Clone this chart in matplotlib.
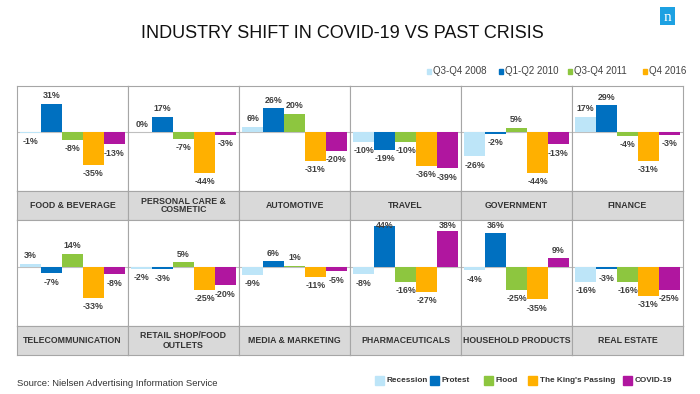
import numpy as np
import matplotlib
matplotlib.use('Agg')
import matplotlib.pyplot as plt
from matplotlib.patches import Rectangle

plt.rcParams['font.family'] = ['Liberation Sans', 'DejaVu Sans']

W, H = 700, 394

# data
industries = ['FOOD & BEVERAGE', 'PERSONAL CARE &\nCOSMETIC', 'AUTOMOTIVE',
              'TRAVEL', 'GOVERNMENT', 'FINANCE',
              'TELECOMMUNICATION', 'RETAIL SHOP/FOOD\nOUTLETS', 'MEDIA & MARKETING',
              'PHARMACEUTICALS', 'HOUSEHOLD PRODUCTS', 'REAL ESTATE']
recession = [-1, 0, 6, -10, -26, 17, 3, -2, -9, -8, -4, -16]
protest = [31, 17, 26, -19, -2, 29, -7, -3, 6, 44, 36, -3]
flood = [-8, -7, 20, -10, 5, -4, 14, 5, 1, -16, -25, -16]
kings_passing = [-35, -44, -31, -36, -44, -31, -33, -25, -11, -27, -35, -31]
covid = [-13, -3, -20, -39, -13, -3, -8, -20, -5, 38, 9, -25]

crisis_names = ['Recession', 'Protest', 'Flood', "The King's Passing", 'COVID-19']
period_names = ['Q3-Q4 2008', 'Q1-Q2 2010', 'Q3-Q4 2011', 'Q4 2016']
colors = ['#BDE5F8', '#0070C0', '#8DC63F', '#FFB000', '#B0169F']

series = np.array([recession, protest, flood, kings_passing, covid])

edge = '#A6A6A6'
txt = '#333333'

fig = plt.figure(figsize=(W / 100, H / 100), dpi=100)


def px_axes(x0, y0, x1, y1):
    # pixel box (top-left origin) -> axes
    return fig.add_axes([x0 / W, 1 - y1 / H, (x1 - x0) / W, (y1 - y0) / H])


col_x = [17 + 111 * i for i in range(7)]
rows = [(86, 191, 220), (220, 326, 355)]

for k in range(12):
    r, c = divmod(k, 6)
    top, band_top, band_bot = rows[r]
    ax = px_axes(col_x[c], top, col_x[c + 1], band_top)
    vals = series[:, k]
    xs = np.arange(5)
    ax.bar(xs, vals, width=1.0, color=colors, zorder=2)
    ax.axhline(0, color='#BFBFBF', lw=0.8, zorder=1)
    ax.set_xlim(-0.65, 4.65)
    ax.set_ylim(-63.5, 50)
    for x, v in zip(xs, vals):
        if v >= 0:
            y = min(v + 8.5, 44)
        else:
            y = v - 9.5
        ax.text(x, y, f'{v}%', ha='center', va='center', fontsize=6.4,
                fontweight='bold', color='#404040', zorder=3)
    ax.set_xticks([])
    ax.set_yticks([])
    for s in ax.spines.values():
        s.set_color(edge)
        s.set_linewidth(0.8)

    bx = px_axes(col_x[c], band_top, col_x[c + 1], band_bot)
    bx.set_facecolor('#D9D9D9')
    bx.set_xticks([])
    bx.set_yticks([])
    for s in bx.spines.values():
        s.set_color(edge)
        s.set_linewidth(0.8)
    bx.text(0.5, 0.5, industries[k], ha='center', va='center', fontsize=6.3,
            fontweight='bold', color=txt, linespacing=1.0,
            transform=bx.transAxes)

# title
fig.text(342 / W, 1 - 33 / H, 'INDUSTRY SHIFT IN COVID-19 VS PAST CRISIS',
         ha='center', va='center', fontsize=13, color='#111111')

# logo
lg = fig.add_axes([660 / W, 1 - 25 / H, 15 / W, 18 / H])
lg.set_facecolor('#1DA1E2')
lg.set_xticks([])
lg.set_yticks([])
for s in lg.spines.values():
    s.set_visible(False)
lg.text(0.5, 0.42, 'n', ha='center', va='center', color='white', fontsize=11,
        family='Liberation Serif', transform=lg.transAxes)

# top legend (periods)
top_sq = [427, 499, 568, 643]
for xq, name, col in zip(top_sq, period_names, colors[:4]):
    fig.patches.append(Rectangle((xq / W, 1 - 73.5 / H), 4 / W, 4 / H,
                                 transform=fig.transFigure, color=col))
    fig.text((xq + 6) / W, 1 - 71.5 / H, name, ha='left', va='center',
             fontsize=7, color='#404040')

# bottom legend (crises)
bot_sq = [375, 430, 484, 528, 623]
for xq, name, col in zip(bot_sq, crisis_names, colors):
    fig.patches.append(Rectangle((xq / W, 1 - 385 / H), 9 / W, 9 / H,
                                 transform=fig.transFigure, color=col))
    fig.text((xq + 11.5) / W, 1 - 380.5 / H, name, ha='left', va='center',
             fontsize=5.9, fontweight='bold', color=txt)

fig.text(17 / W, 1 - 383 / H, 'Source: Nielsen Advertising Information Service',
         ha='left', va='center', fontsize=6.8, color=txt)

fig.savefig('out.png', dpi=100)
